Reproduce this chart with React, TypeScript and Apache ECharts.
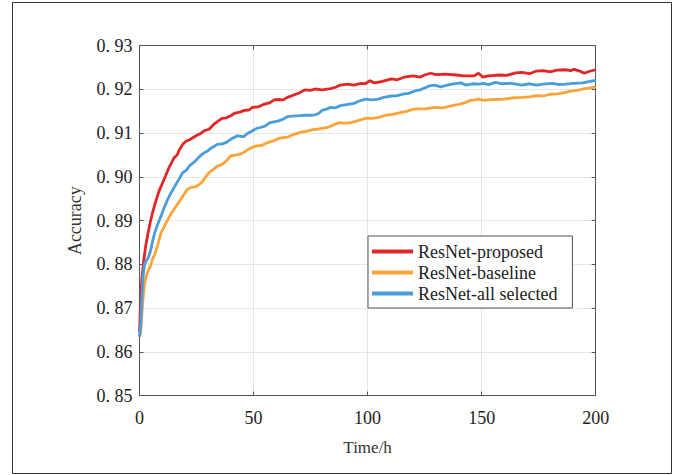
import React, { useEffect, useRef } from "react";
import * as echarts from "echarts";

const seriesNames = ["ResNet-proposed", "ResNet-baseline", "ResNet-all selected"];
const seriesColors = ["#E32526", "#FBA43A", "#4A9DDB"];

const xTicks = { min: 0, max: 200, interval: 50 };
const yTicks = { min: 0.85, max: 0.93, interval: 0.01 };

const proposed: number[][] = [
  [0, 0.8645], [0.5, 0.872], [1, 0.8765], [1.9, 0.8811], [2.8, 0.8845], [3.8, 0.8873], [4.8, 0.8898],
  [5.7, 0.8918], [7, 0.8942], [8.6, 0.8968], [10, 0.8985], [11.4, 0.9002], [13, 0.9022], [15.2, 0.9044],
  [16.5, 0.905], [17.5, 0.9062], [19, 0.9075], [20.5, 0.9082], [22, 0.9085], [24.8, 0.9094], [27, 0.91],
  [28.5, 0.9106], [30.5, 0.9109], [32.5, 0.912], [34, 0.9126], [36.2, 0.9134], [38, 0.9135], [40, 0.914],
  [41.9, 0.9146], [44, 0.9148], [46, 0.9152], [48, 0.9153], [49.5, 0.9159], [52, 0.916], [54.5, 0.9166],
  [57.2, 0.917], [59, 0.9176], [61, 0.9177], [63, 0.9176], [64.8, 0.9182], [67, 0.9186], [70, 0.9192],
  [72.4, 0.9199], [75, 0.9198], [77, 0.9201], [80, 0.9199], [83.8, 0.9202], [86, 0.9205], [88, 0.921],
  [91.4, 0.9212], [94, 0.921], [97, 0.9214], [99, 0.9213], [101, 0.922], [103, 0.9215], [106, 0.9218],
  [110.5, 0.9224], [113, 0.9222], [116, 0.9228], [120, 0.9231], [123, 0.9228], [125, 0.9233], [127.6, 0.9237],
  [130, 0.9234], [134, 0.9235], [139, 0.9233], [142, 0.9231], [146.7, 0.9231], [148.6, 0.9237], [150.5, 0.9228],
  [153, 0.9231], [158, 0.9233], [161, 0.9232], [165, 0.9238], [167.6, 0.9239], [171, 0.9236], [174, 0.9242],
  [177, 0.9243], [180, 0.924], [183, 0.9244], [186.7, 0.9245], [189, 0.9243], [190.5, 0.9246], [193, 0.9242],
  [195, 0.9237], [197, 0.9241], [200, 0.9245],
];

const baseline: number[][] = [
  [0, 0.8635], [0.5, 0.8645], [1, 0.8682], [1.5, 0.872], [2.2, 0.8755], [2.9, 0.8773], [3.8, 0.8785],
  [4.8, 0.8796], [5.7, 0.8812], [6.7, 0.8823], [8, 0.8845], [9.5, 0.8873], [11.5, 0.8893], [13.3, 0.8911],
  [15, 0.8925], [17.1, 0.8941], [19, 0.8956], [21, 0.8972], [22.5, 0.8976], [24.8, 0.8978], [26, 0.8982],
  [27.6, 0.8989], [29, 0.9], [30.5, 0.901], [32.5, 0.9018], [34.3, 0.9025], [36, 0.9028], [38, 0.9036],
  [40, 0.9048], [42, 0.905], [44, 0.9052], [45.7, 0.9056], [48, 0.9064], [49.5, 0.9068], [51.4, 0.9071],
  [53.5, 0.9072], [55.5, 0.9077], [57.2, 0.908], [59, 0.9083], [61, 0.9088], [62.9, 0.909], [65, 0.9091],
  [67, 0.9096], [70.5, 0.9102], [73, 0.9104], [76, 0.9108], [78, 0.9109], [80, 0.9111], [83, 0.9114],
  [85.5, 0.912], [87.6, 0.9124], [89.5, 0.9123], [91.4, 0.9123], [94, 0.9126], [96.5, 0.913], [99, 0.9134],
  [102, 0.9134], [104.8, 0.9136], [108, 0.9141], [111, 0.9143], [114.3, 0.9147], [117, 0.915], [119.5, 0.9154],
  [122, 0.9156], [125, 0.9155], [127, 0.9157], [129.5, 0.9159], [133, 0.9158], [137, 0.9163], [140, 0.9166],
  [142.9, 0.917], [145, 0.9175], [147, 0.9176], [148.6, 0.9178], [151, 0.9175], [153, 0.9176], [156, 0.9177],
  [160, 0.9178], [164, 0.9181], [167.6, 0.9182], [171, 0.9183], [174, 0.9186], [177, 0.9185], [180, 0.9189],
  [183, 0.919], [186.7, 0.9193], [189, 0.9196], [192, 0.9198], [194.3, 0.9201], [197, 0.9203], [200, 0.9206],
];

const allSelected: number[][] = [
  [0, 0.8635], [0.5, 0.866], [1, 0.872], [1.5, 0.877], [2.2, 0.88], [2.9, 0.8808], [3.8, 0.8815],
  [4.8, 0.883], [5.7, 0.8852], [6.7, 0.8873], [8, 0.8892], [9.5, 0.8911], [11, 0.8932], [12.4, 0.8949],
  [14, 0.8965], [15.2, 0.8976], [17, 0.8992], [19, 0.901], [20.5, 0.9015], [22, 0.9026], [23.8, 0.9033],
  [25.5, 0.9042], [27, 0.905], [28.6, 0.9056], [30, 0.906], [32, 0.9068], [34.3, 0.9075], [36, 0.9075],
  [38.1, 0.9079], [40, 0.9086], [42.9, 0.9094], [44, 0.9093], [45.7, 0.9092], [47, 0.9098], [49, 0.9104],
  [51.4, 0.9111], [53, 0.9113], [55, 0.9116], [57.2, 0.9124], [59, 0.9126], [61, 0.9128], [63, 0.9132],
  [64.8, 0.9138], [67, 0.9139], [70, 0.914], [72.4, 0.9141], [75, 0.9141], [77, 0.9142], [78.5, 0.9145],
  [80, 0.9152], [82, 0.9155], [83.8, 0.9159], [86, 0.9158], [88, 0.9163], [91.4, 0.9166], [94, 0.9168],
  [96, 0.9173], [99, 0.9178], [102, 0.9176], [104.8, 0.9178], [107, 0.9182], [110.5, 0.9185], [113, 0.9186],
  [116, 0.919], [118, 0.9191], [121, 0.9197], [123, 0.9199], [125.7, 0.9205], [127, 0.9208], [129.5, 0.921],
  [132, 0.9206], [135, 0.921], [137, 0.9212], [141, 0.9215], [143, 0.921], [146, 0.9213], [148.6, 0.9212],
  [151, 0.9214], [153, 0.9211], [156, 0.9216], [159, 0.9213], [163, 0.9214], [167.6, 0.921], [171, 0.9213],
  [174, 0.921], [177, 0.9212], [181, 0.9214], [184, 0.9211], [186.7, 0.9212], [190, 0.9214], [194.3, 0.9215],
  [197, 0.9218], [200, 0.9221],
];

const seriesData = [proposed, baseline, allSelected];

const FONT = "'Liberation Serif', 'Times New Roman', serif";
const AXIS_COLOR = "#555";

export default function App() {
  const ref = useRef<HTMLDivElement>(null);
  useEffect(() => {
    if (!ref.current) return;
    const chart = echarts.init(ref.current, null, { renderer: "svg" });
    const fmtY = (v: number) => v.toFixed(2).replace("0.", "0. ");
    const commonX = {
      type: "value" as const,
      min: xTicks.min,
      max: xTicks.max,
      interval: xTicks.interval,
    };
    const commonY = {
      type: "value" as const,
      min: yTicks.min,
      max: yTicks.max,
      interval: yTicks.interval,
    };
    chart.setOption({
      animation: false,
      backgroundColor: "#fff",
      grid: { left: 139.5, right: 85.3, top: 45.7, bottom: 79.4, containLabel: false },
      xAxis: [
        {
          ...commonX,
          position: "bottom",
          name: "Time/h",
          nameLocation: "middle",
          nameGap: 43,
          nameTextStyle: { fontFamily: FONT, fontSize: 17, color: "#333" },
          axisLine: { show: true, onZero: false, lineStyle: { color: AXIS_COLOR, width: 1 } },
          axisTick: { show: true, inside: true, length: 4, lineStyle: { color: AXIS_COLOR } },
          axisLabel: { fontFamily: FONT, fontSize: 18, color: "#222", margin: 13 },
          splitLine: { show: true, lineStyle: { color: "#e6e6e6", width: 1 } },
        },
        {
          ...commonX,
          position: "top",
          axisLine: { show: true, onZero: false, lineStyle: { color: AXIS_COLOR, width: 1 } },
          axisTick: { show: true, inside: true, length: 4, lineStyle: { color: AXIS_COLOR } },
          axisLabel: { show: false },
          splitLine: { show: false },
        },
      ],
      yAxis: [
        {
          ...commonY,
          position: "left",
          name: "Accuracy",
          nameLocation: "middle",
          nameRotate: 90,
          nameGap: 56,
          nameTextStyle: { fontFamily: FONT, fontSize: 18, color: "#333" },
          axisLine: { show: true, onZero: false, lineStyle: { color: AXIS_COLOR, width: 1 } },
          axisTick: { show: true, inside: true, length: 4, lineStyle: { color: AXIS_COLOR } },
          axisLabel: { fontFamily: FONT, fontSize: 18, color: "#222", margin: 7, formatter: fmtY },
          splitLine: { show: true, lineStyle: { color: "#e6e6e6", width: 1 } },
        },
        {
          ...commonY,
          position: "right",
          axisLine: { show: true, onZero: false, lineStyle: { color: AXIS_COLOR, width: 1 } },
          axisTick: { show: true, inside: true, length: 4, lineStyle: { color: AXIS_COLOR } },
          axisLabel: { show: false },
          splitLine: { show: false },
        },
      ],
      legend: {
        orient: "vertical",
        left: 368,
        top: 236,
        data: seriesNames,
        icon: "rect",
        itemWidth: 41,
        itemHeight: 4,
        itemGap: 0,
        padding: [5, 15, 4, 4],
        borderColor: "#555",
        borderWidth: 1,
        backgroundColor: "#fff",
        textStyle: { fontFamily: FONT, fontSize: 18, color: "#222", lineHeight: 21 },
      },
      series: seriesNames.map((name, i) => ({
        name,
        type: "line",
        xAxisIndex: 0,
        yAxisIndex: 0,
        data: seriesData[i],
        showSymbol: false,
        symbol: "none",
        color: seriesColors[i],
        lineStyle: { color: seriesColors[i], width: 2.8 },
        itemStyle: { color: seriesColors[i] },
        z: 3 + i,
      })),
      graphic: [
        {
          type: "rect",
          shape: { x: 12.5, y: 2.5, width: 659, height: 471 },
          style: { fill: "none", stroke: "#333", lineWidth: 1 },
          silent: true,
        },
      ],
    });
    return () => chart.dispose();
  }, []);
  return (
    <div
      ref={ref}
      style={{ position: "fixed", left: 0, top: 0, width: 681, height: 475, background: "#fff" }}
    />
  );
}
